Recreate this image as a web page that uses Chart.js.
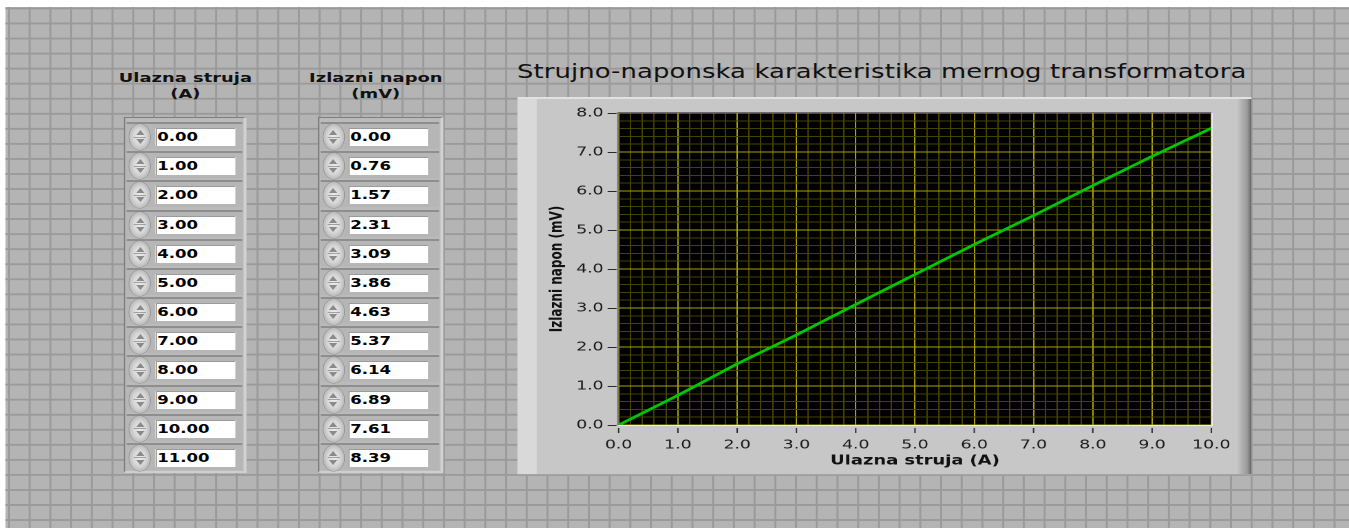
<!DOCTYPE html>
<html><head><meta charset="utf-8">
<script src="https://cdn.jsdelivr.net/npm/chart.js@4/dist/chart.umd.min.js"></script>
<style>
html,body{margin:0;padding:0;background:#fff;overflow:hidden;width:1349px;height:528px}
#stage{position:absolute;left:0;top:0;width:980px;height:528px;transform:scaleX(1.37653);transform-origin:0 0;}
#panel{position:absolute;left:4.4px;top:7px;right:0;bottom:0;background-color:#b4b4b4;
 background-image:linear-gradient(to right,#9a9a9a 0,#9a9a9a 1.4px,transparent 1.4px),linear-gradient(to bottom,#9a9a9a 0,#9a9a9a 1.6px,transparent 1.6px);
 background-size:15.05px 15.05px;background-position:1.8px 0.5px;}
.lbl{position:absolute;font:bold 13px/16px "DejaVu Sans",sans-serif;color:#111;text-align:center;white-space:nowrap;}
#title{position:absolute;left:375.5px;top:60.6px;font:normal 18.8px/22px "DejaVu Sans",sans-serif;letter-spacing:0.08px;color:#111;white-space:nowrap}
.arr{position:absolute;top:117px;height:356px;background:#bababa;border-left:1px solid #7e7e7e;border-top:1px solid #7e7e7e;border-right:2px solid #d2d2d2;border-bottom:2px solid #cfcfcf;box-sizing:border-box}
.rowbg{position:absolute;height:27px;background:#b6b6b6;border-top:2px solid #8e8e8e;box-sizing:border-box}
.box{position:absolute;height:18px;background:#fff;font:bold 12px/18px "DejaVu Sans",sans-serif;color:#000;padding-left:1.6px;box-sizing:border-box;white-space:nowrap;box-shadow:inset 1px 1px 0 #9a9a9a}
.btn{position:absolute;width:15px;height:26px;border-radius:50%;background:radial-gradient(ellipse at 50% 50%,#ececec 0,#d6d6d6 45%,#9c9c9c 100%);box-shadow:0 0 0 0.5px #8a8a8a}
.btn .up,.btn .dn{position:absolute;left:4.5px;width:0;height:0;border-left:3px solid transparent;border-right:3px solid transparent}
.btn .up{top:6px;border-bottom:5px solid #8a8a8a}
.btn .dn{top:15px;border-top:5px solid #8a8a8a}
.btn .mid{position:absolute;left:3px;right:3px;top:12.5px;height:1px;background:#a0a0a0}
#frame{position:absolute;left:376.3px;top:97px;width:533.1px;height:378px;background:#c7c7c7;border-top:2px solid #e2e2e2;border-bottom:1px solid #a4a4a4;box-sizing:border-box}
#frame .ls{position:absolute;left:0;top:0;bottom:0;width:13.8px;background:#d9d9d9}
#frame .rs{position:absolute;right:0;top:0;bottom:0;width:10.5px;background:linear-gradient(to right,#c4c4c4,#9a9a9a 70%,#7a7a7a 90%,#5a5a5a)}
#c{position:absolute;left:375.5px;top:55px;width:534px;height:420px}
</style></head>
<body>
<div id="stage">
  <div id="panel"></div>
  <div id="frame"><div class="ls"></div><div class="rs"></div></div>
  <div id="title"></div>
  <canvas id="c" width="534" height="420"></canvas>
</div>
<script>
// ---- data ----
const currentA = [0, 1, 2, 3, 4, 5, 6, 7, 8, 9, 10, 11];
const voltageMV = [0.00, 0.76, 1.57, 2.31, 3.09, 3.86, 4.63, 5.37, 6.14, 6.89, 7.61, 8.39];
const xTickLabels = ['0.0','1.0','2.0','3.0','4.0','5.0','6.0','7.0','8.0','9.0','10.0'];
const yTickLabels = ['0.0','1.0','2.0','3.0','4.0','5.0','6.0','7.0','8.0'];
const chartTitle = 'Strujno-naponska karakteristika mernog transformatora';
const xTitle = 'Ulazna struja (A)';
const yTitle = 'Izlazni napon (mV)';
const arrayLabels = [['Ulazna struja','(A)'], ['Izlazni napon','(mV)']];

document.getElementById('title').textContent = chartTitle;

// ---- numeric array controls ----
const stage = document.getElementById('stage');
function addEl(cls, css, html){const d=document.createElement('div');d.className=cls;Object.assign(d.style,css);if(html!==undefined)d.innerHTML=html;stage.appendChild(d);return d;}
const cols = [
  {frameL:90, frameW:89, btnL:94.4, boxL:112.6, boxW:58.8, center:134.7, vals:currentA},
  {frameL:231, frameW:91, btnL:234.6, boxL:252.8, boxW:58.3, center:273, vals:voltageMV}
];
cols.forEach((c,ci)=>{
  addEl('lbl',{left:(c.center-60)+'px',width:'120px',top:'69.5px'}, arrayLabels[ci].join('<br>'));
  addEl('arr',{left:c.frameL+'px',width:c.frameW+'px'});
  c.vals.forEach((v,i)=>{
    const top = 128 + 29.18*i;
    addEl('rowbg',{left:(c.btnL-2)+'px',width:(c.frameL+c.frameW-3-(c.btnL-2))+'px',top:(top-6)+'px'});
    addEl('btn',{left:c.btnL+'px',top:(top-4)+'px'},'<span class="up"></span><span class="mid"></span><span class="dn"></span>');
    addEl('box',{left:c.boxL+'px',width:c.boxW+'px',top:top+'px'}, v.toFixed(2));
  });
});

// ---- chart ----
const isMajor = v => Math.abs(v - Math.round(v)) < 1e-6;
const MAJ = '#aaa200', MIN = '#464200';
const plotDeco = {
  id:'plotDeco',
  beforeDraw(chart){
    const {ctx, chartArea:a} = chart;
    ctx.save(); ctx.fillStyle='#000'; ctx.fillRect(a.left,a.top,a.right-a.left,a.bottom-a.top); ctx.restore();
  },
  afterDraw(chart){
    const {ctx, chartArea:a, scales:{x,y}} = chart;
    ctx.save();
    ctx.lineWidth=1;
    ctx.strokeStyle='#6c6c6c';
    ctx.beginPath(); ctx.moveTo(a.left-0.5,a.bottom); ctx.lineTo(a.left-0.5,a.top-0.5); ctx.lineTo(a.right,a.top-0.5); ctx.stroke();
    ctx.strokeStyle='#eeeeee';
    ctx.beginPath(); ctx.moveTo(a.left,a.bottom+0.5); ctx.lineTo(a.right+0.5,a.bottom+0.5); ctx.lineTo(a.right+0.5,a.top); ctx.stroke();
    ctx.strokeStyle='#2a2a2a';
    xTickLabels.forEach((t,i)=>{const px=x.getPixelForValue(i); ctx.beginPath(); ctx.moveTo(px,a.bottom+3); ctx.lineTo(px,a.bottom+8); ctx.stroke();});
    yTickLabels.forEach((t,i)=>{const py=Math.round(y.getPixelForValue(i))+0.5; ctx.beginPath(); ctx.moveTo(a.left-8,py); ctx.lineTo(a.left-1.5,py); ctx.stroke();});
    ctx.restore();
  }
};
new Chart(document.getElementById('c'), {
  type:'line',
  data:{datasets:[{data:currentA.map((xv,i)=>({x:xv,y:voltageMV[i]})),borderColor:'#00c800',borderWidth:2.6,pointRadius:0,tension:0,fill:false}]},
  options:{
    responsive:false, animation:false, devicePixelRatio:2,
    layout:{padding:{left:0,right:30,top:58,bottom:0}},
    plugins:{legend:{display:false}, tooltip:{enabled:false}, title:{display:false}},
    scales:{
      x:{type:'linear',min:0,max:10,
        afterFit(s){s.height=50;},
        ticks:{stepSize:0.2,autoSkip:false,maxRotation:0,padding:12.5,color:'#1a1a1a',font:{family:'"DejaVu Sans"',size:12.5},
          callback:v=>isMajor(v)?xTickLabels[Math.round(v)]:''},
        grid:{drawTicks:false,lineWidth:1,color:c=>isMajor(c.tick.value)?MAJ:MIN},
        border:{display:false},
        title:{display:true,text:xTitle,color:'#111',font:{family:'"DejaVu Sans"',size:13,weight:'bold',lineHeight:1.2},padding:{top:0,bottom:6.2}}
      },
      y:{type:'linear',min:0,max:8,
        afterFit(s){s.width=73.4;},
        ticks:{stepSize:0.2,autoSkip:false,padding:10.9,color:'#1a1a1a',font:{family:'"DejaVu Sans"',size:12.5},
          callback:v=>isMajor(v)?yTickLabels[Math.round(v)]:''},
        grid:{drawTicks:false,lineWidth:1,color:c=>isMajor(c.tick.value)?MAJ:MIN},
        border:{display:false},
        title:{display:true,text:yTitle,color:'#111',font:{family:'"DejaVu Sans"',size:12,weight:'bold',lineHeight:1.2},padding:{top:21.9,bottom:0}}
      }
    }
  },
  plugins:[plotDeco]
});
</script>
</body></html>
